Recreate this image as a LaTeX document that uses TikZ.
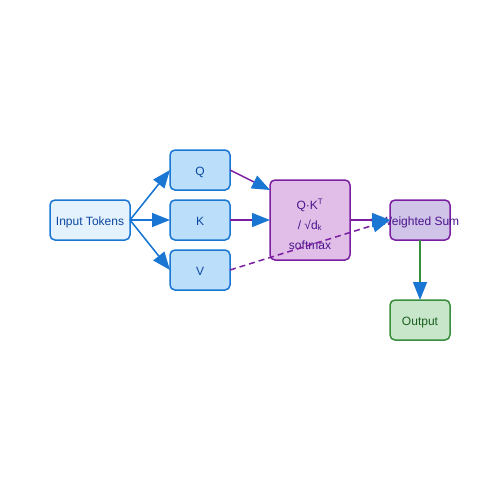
\documentclass[tikz,border=0pt]{standalone}
\usepackage{fontspec}
\setmainfont{Liberation Sans}
\usetikzlibrary{arrows.meta,calc}
\definecolor{bl}{HTML}{1976D2}
\definecolor{bltext}{HTML}{0D47A1}
\definecolor{blfillA}{HTML}{E3F2FD}
\definecolor{blfillB}{HTML}{BBDEFB}
\definecolor{pu}{HTML}{7B1FA2}
\definecolor{putext}{HTML}{4A148C}
\definecolor{pufillA}{HTML}{E1BEE7}
\definecolor{pufillB}{HTML}{D1C4E9}
\definecolor{gr}{HTML}{388E3C}
\definecolor{grtext}{HTML}{1B5E20}
\definecolor{grfill}{HTML}{C8E6C9}
\begin{document}
\begin{tikzpicture}[x=1pt,y=-1pt,
  box/.style={draw, rounded corners=5pt, line width=1.5pt, minimum width=60pt,
    minimum height=40pt, inner sep=0pt, outer sep=0pt, text height=11pt, text depth=0.4pt,
    font=\fontsize{12}{14}\selectfont},
  bluebox/.style={box, draw=bl, text=bltext},
  purplebox/.style={box, draw=pu, text=putext},
  tip/.style={-{Triangle[length=18pt,width=14pt,color=bl]}},
  conn/.style={line width=1.5pt, tip},
]
\useasboundingbox (0,0) rectangle (500,500);
\node[bluebox, fill=blfillA, minimum width=80pt] (in) at (90,220) {Input Tokens};
\node[bluebox, fill=blfillB] (q) at (200,170) {Q};
\node[bluebox, fill=blfillB] (k) at (200,220) {K};
\node[bluebox, fill=blfillB] (v) at (200,270) {V};
\node[purplebox, fill=pufillA, minimum width=80pt, minimum height=80pt,
  text height=0pt, text depth=0pt, font=\fontsize{12}{20}\selectfont] (att) at (310,220)
  {\raisebox{-8pt}[0pt][0pt]{\begin{tabular}{@{}c@{}}Q·K\textsuperscript{T}\\/ √d\textsubscript{k}\\softmax\end{tabular}}};
\node[purplebox, fill=pufillB] (ws) at (420,220) {\makebox[0pt]{Weighted Sum}};
\node[box, draw=gr, fill=grfill, text=grtext] (out) at (420,320) {Output};

\draw[conn, bl] (in.east) -- (q.west);
\draw[conn, bl] (in.east) -- (k.west);
\draw[conn, bl] (in.east) -- (v.west);
\draw[conn, pu] (q.east) -- ($(att.north west)+(0,10)$);
\draw[conn, pu] (k.east) -- (att.west);
\draw[conn, pu, dash pattern=on 6pt off 4pt] (v.east) -- (ws.west);
\draw[conn, pu] (att.east) -- (ws.west);
\draw[conn, gr] (ws.south) -- (out.north);
\end{tikzpicture}
\end{document}
